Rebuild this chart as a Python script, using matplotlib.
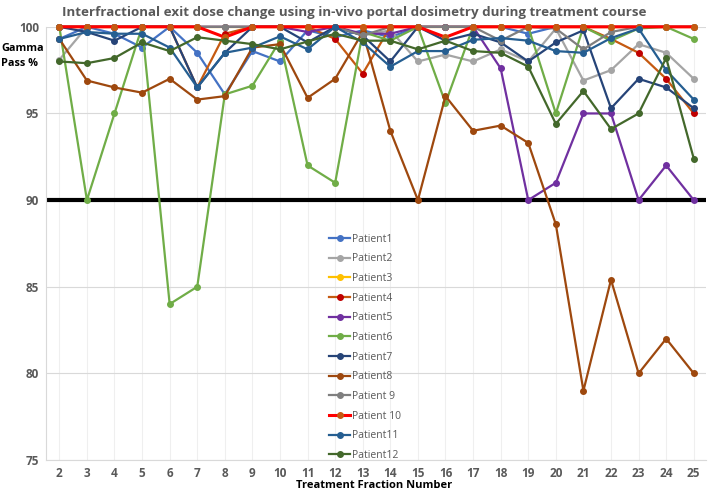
import matplotlib
matplotlib.use("Agg")
import matplotlib.pyplot as plt

fractions = list(range(2, 26))

patient1 = [99.3, 100, 99.6, 98.8, 100, 98.5, 96.1, 98.6, 98.0, 99.8, 99.4, 99.8,
            99.4, 100, 100, 100, 100, 99.6, 100, 100, 100, 100, 100, 100]
patient2 = [98.1, 100, 100, 100, 100, 100, 100, 100, 100, 100, 100, 99.5,
            99.8, 98.0, 98.4, 98.0, 98.7, 98.0, 99.9, 96.9, 97.5, 99.0, 98.5, 97.0]
patient3 = [100] * 24
patient4 = [100, 100, 100, 100, 100, 96.5, 99.6, 100, 100, 100, 99.3, 97.3,
            100, 100, 100, 100, 100, 100, 100, 100, 99.3, 98.5, 97.0, 95.0]
patient5 = [100, 100, 100, 100, 100, 100, 100, 100, 100, 99.7, 100, 99.6,
            99.6, 100, 100, 100, 97.6, 90.0, 91.0, 95.0, 95.0, 90.0, 92.0, 90.0]
patient6 = [100, 90.0, 95.0, 100, 84.0, 85.0, 96.1, 96.6, 99.2, 92.0, 91.0, 99.7,
            99.2, 100, 95.6, 100, 100, 100, 95.0, 100, 99.2, 99.9, 100, 99.3]
patient7 = [100, 99.7, 99.2, 100, 100, 96.5, 98.5, 100, 100, 99.1, 100, 99.5,
            98.0, 100, 99.2, 99.6, 99.1, 98.0, 99.1, 99.8, 95.3, 97.0, 96.5, 95.3]
patient8 = [99.3, 96.9, 96.5, 96.2, 97.0, 95.8, 96.0, 98.8, 99.0, 95.9, 97.0, 99.7,
            94.0, 90.0, 96.0, 94.0, 94.3, 93.3, 88.6, 79.0, 85.4, 80.0, 82.0, 80.0]
patient9 = [100, 100, 100, 100, 100, 100, 100, 100, 100, 100, 100, 99.5,
            100, 100, 100, 100, 99.2, 100, 99.9, 98.7, 99.7, 100, 100, 100]
patient10 = [100, 100, 100, 100, 100, 100, 99.4, 100, 100, 100, 100, 100,
             100, 100, 99.4, 100, 100, 100, 100, 100, 100, 100, 100, 100]
patient11 = [99.3, 99.7, 99.6, 99.6, 98.8, 96.5, 98.5, 98.8, 99.45, 98.7, 100, 99.1,
             97.7, 98.6, 98.6, 99.25, 99.35, 99.2, 98.6, 98.5, 99.35, 99.9, 97.5, 95.8]
patient12 = [98.0, 97.9, 98.2, 99.1, 98.6, 99.4, 99.2, 99.0, 98.7, 99.15, 99.6, 99.2,
             99.2, 98.7, 99.2, 98.6, 98.5, 97.7, 94.4, 96.3, 94.1, 95.0, 98.2, 92.4]

series_names = ["Patient1", "Patient2", "Patient3", "Patient4", "Patient5", "Patient6",
                "Patient7", "Patient8", "Patient 9", "Patient 10", "Patient11", "Patient12"]
series_values = [patient1, patient2, patient3, patient4, patient5, patient6,
                 patient7, patient8, patient9, patient10, patient11, patient12]
line_colors = ["#4472C4", "#A5A5A5", "#FFC000", "#C55A11", "#7030A0", "#70AD47",
               "#264478", "#9E480E", "#7F7F7F", "#FF0000", "#255E91", "#43682B"]
marker_colors = ["#4472C4", "#A5A5A5", "#FFC000", "#C00000", "#7030A0", "#70AD47",
                 "#264478", "#9E480E", "#7F7F7F", "#C55A11", "#255E91", "#43682B"]
yticks = [75, 80, 85, 90, 95, 100]
threshold = 90

plt.rcParams['font.family'] = ['Open Sans', 'DejaVu Sans']

fig = plt.figure(figsize=(7.09, 4.92), dpi=100)
ax = fig.add_axes([0.065, 0.065, 0.931, 0.8805])

for x in fractions:
    ax.axvline(x, color="#EFEFEF", lw=0.8, zorder=0)
for y in yticks:
    if y != threshold:
        ax.axhline(y, color="#D9D9D9", lw=0.8, zorder=0)
ax.axhline(threshold, color="black", lw=3, zorder=1.5)

for name, vals, lc, mc in zip(series_names, series_values, line_colors, marker_colors):
    lw = 2.2 if name == "Patient 10" else 1.6
    ax.plot(fractions, vals, color=lc, lw=lw, marker="o", markersize=4,
            markerfacecolor=mc, markeredgecolor=mc, label=name, clip_on=False, zorder=3)

ax.set_xlim(1.52, 25.45)
ax.set_ylim(75, 100)
ax.set_xticks(fractions)
ax.set_yticks(yticks)
ax.tick_params(length=0, labelsize=8.5, labelcolor="#595959", pad=5)
for lab in ax.get_xticklabels() + ax.get_yticklabels():
    lab.set_fontweight("bold")
for s in ["top", "right"]:
    ax.spines[s].set_visible(False)
for s in ["left", "bottom"]:
    ax.spines[s].set_color("#D9D9D9")
    ax.spines[s].set_linewidth(0.8)

leg = ax.legend(loc="upper left", bbox_to_anchor=(0.423, 0.532), frameon=False,
                fontsize=7.5, handlelength=2.0, labelspacing=0.83, handletextpad=0.15,
                borderaxespad=0)
for t in leg.get_texts():
    t.set_color("#595959")

fig.text(0.5, 0.988, "Interfractional exit dose change using in-vivo portal dosimetry during treatment course",
         ha="center", va="top", fontsize=9.6, fontweight="bold", color="#595959")
fig.text(0.002, 0.886, "Gamma\nPass %", ha="left", va="center", fontsize=7.8,
         fontweight="bold", color="black", linespacing=1.5)
fig.text(0.527, 0.014, "Treatment Fraction Number", ha="center", va="center",
         fontsize=8, fontweight="bold", color="black")

fig.savefig("out.png", dpi=100)
